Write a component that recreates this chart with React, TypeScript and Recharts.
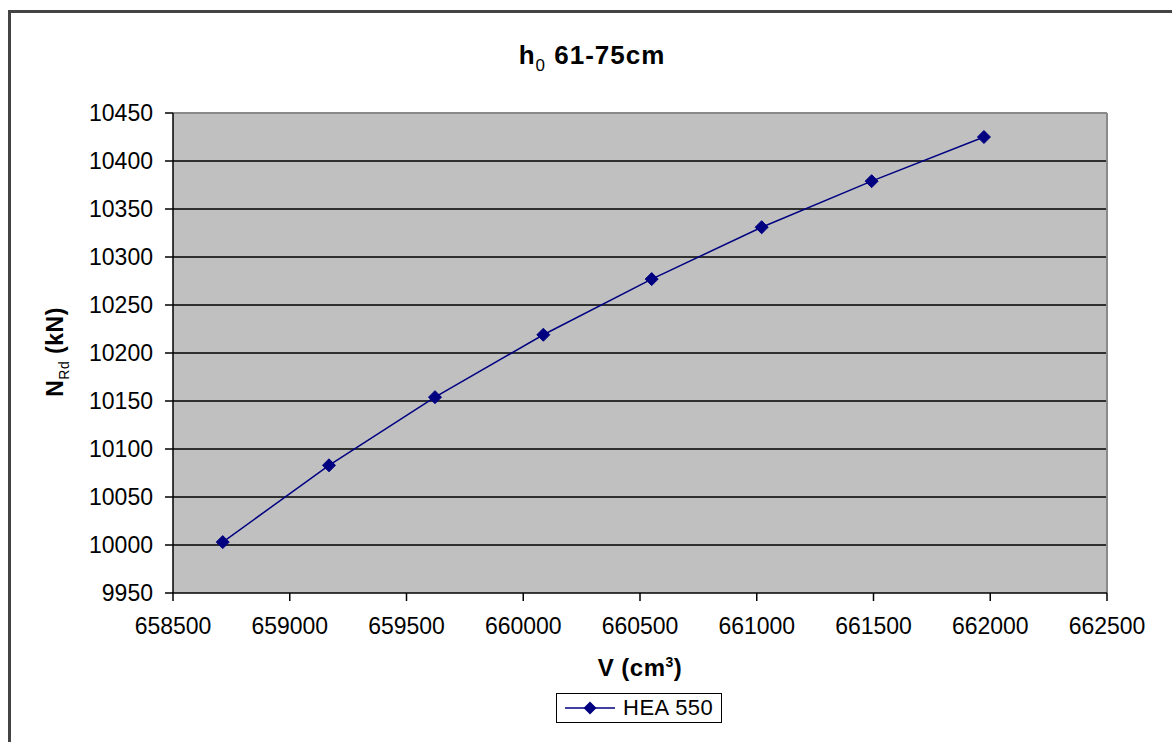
import { CartesianGrid, Line, LineChart, ReferenceLine, XAxis, YAxis } from 'recharts';

const volumes = [658713, 659168, 659622, 660086, 660550, 661021, 661492, 661973];
const capacities = [10003, 10083, 10154, 10219, 10277, 10331, 10379, 10425];
const xTicks = [658500, 659000, 659500, 660000, 660500, 661000, 661500, 662000, 662500];
const yTicks = [9950, 10000, 10050, 10100, 10150, 10200, 10250, 10300, 10350, 10400, 10450];
const seriesName = 'HEA 550';

const data = volumes.map((v, i) => ({ v, n: capacities[i] }));

const font = '"Liberation Sans", Arial, sans-serif';
const navy = '#000080';

const Diamond = (props: any) => {
  const { cx, cy } = props;
  if (cx == null || cy == null) return null;
  const r = 6.5;
  return <polygon points={`${cx},${cy - r} ${cx + r},${cy} ${cx},${cy + r} ${cx - r},${cy}`} fill={navy} stroke={navy} />;
};

const tickStyle = { fontSize: 23, fill: '#000', fontFamily: font };

export default function App() {
  return (
    <div style={{ position: 'absolute', left: 0, top: 0, width: 1172, height: 742, overflow: 'hidden', background: '#fff', fontFamily: font }}>
      <div style={{ position: 'absolute', left: 8, top: 10, width: 1180, height: 760, border: '3px solid #444', boxSizing: 'border-box' }} />

      <LineChart
        width={1172}
        height={742}
        data={data}
        margin={{ top: 113, right: 65, left: 73, bottom: 89 }}
        style={{ position: 'absolute', left: 0, top: 0 }}
      >
        <CartesianGrid
          vertical={false}
          horizontalValues={yTicks.slice(1, -1)}
          stroke="#000"
          strokeWidth={1.5}
          fill="#c0c0c0"
          fillOpacity={1}
        />
        <ReferenceLine y={10450} stroke="#8a8a8a" strokeWidth={2} />
        <ReferenceLine x={662500} stroke="#8a8a8a" strokeWidth={2} />
        <XAxis
          type="number"
          dataKey="v"
          domain={[658500, 662500]}
          ticks={xTicks}
          interval={0}
          height={60}
          tick={tickStyle}
          tickSize={8}
          tickMargin={17}
          axisLine={{ stroke: '#000', strokeWidth: 1.5 }}
          tickLine={{ stroke: '#000', strokeWidth: 1.5 }}
        />
        <YAxis
          type="number"
          domain={[9950, 10450]}
          ticks={yTicks}
          interval={0}
          width={100}
          tick={tickStyle}
          tickSize={8}
          tickMargin={12}
          axisLine={{ stroke: '#000', strokeWidth: 1.5 }}
          tickLine={{ stroke: '#000', strokeWidth: 1.5 }}
        />
        <Line
          type="linear"
          dataKey="n"
          name={seriesName}
          stroke={navy}
          strokeWidth={1.5}
          dot={<Diamond />}
          activeDot={false}
          isAnimationActive={false}
        />
      </LineChart>

      <div style={{ position: 'absolute', left: 592, top: 58, transform: 'translate(-50%, -50%)', fontSize: 26, fontWeight: 'bold', whiteSpace: 'nowrap', letterSpacing: 1 }}>
        h<sub style={{ fontSize: 17, fontWeight: 'normal' }}>0</sub> 61-75cm
      </div>

      <div style={{ position: 'absolute', left: 57, top: 352, transform: 'translate(-50%, -50%) rotate(-90deg)', fontSize: 23, fontWeight: 'bold', whiteSpace: 'nowrap', letterSpacing: 0.5 }}>
        N<sub style={{ fontSize: 14, fontWeight: 'normal' }}>Rd</sub> (kN)
      </div>

      <div style={{ position: 'absolute', left: 640, top: 668, transform: 'translate(-50%, -50%)', fontSize: 24, fontWeight: 'bold', whiteSpace: 'nowrap', letterSpacing: 0.5 }}>
        V (cm<sup style={{ fontSize: 14 }}>3</sup>)
      </div>

      <div style={{ position: 'absolute', left: 556, top: 693, width: 166, height: 30, border: '1.5px solid #000', boxSizing: 'border-box', display: 'flex', alignItems: 'center' }}>
        <svg width={58} height={20} style={{ marginLeft: 6 }}>
          <line x1={2} y1={10} x2={52} y2={10} stroke={navy} strokeWidth={1.5} />
          <polygon points="27,3.5 33.5,10 27,16.5 20.5,10" fill={navy} />
        </svg>
        <span style={{ fontSize: 22, marginLeft: 2, letterSpacing: 0.5 }}>{seriesName}</span>
      </div>
    </div>
  );
}
